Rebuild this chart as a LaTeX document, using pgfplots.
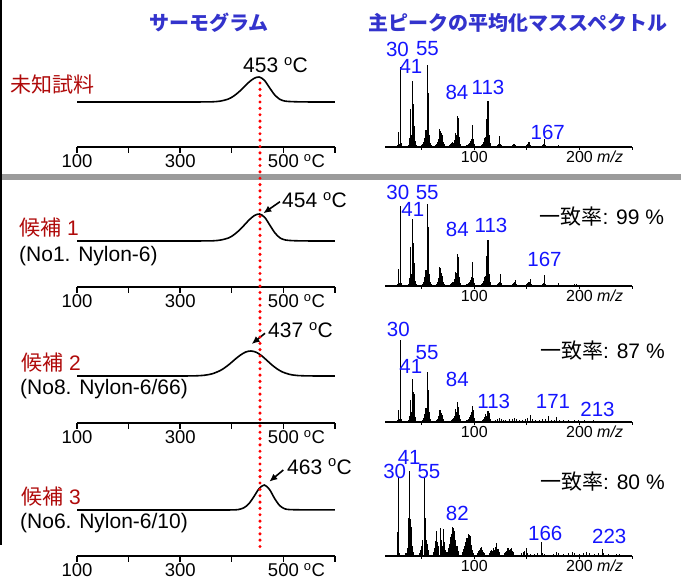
\documentclass[border=0pt]{standalone}
\usepackage{fontspec}
\setmainfont{Liberation Sans}
\newfontfamily\jp{Noto Sans CJK JP}
\usepackage{pgfplots}
\pgfplotsset{compat=1.18}
\usetikzlibrary{arrows.meta}

\definecolor{ttlblue}{RGB}{51,51,204}
\definecolor{lblred}{RGB}{175,10,10}
\definecolor{numblue}{RGB}{20,20,255}
\definecolor{sepgray}{RGB}{155,155,155}

\newcommand{\degC}{\textsuperscript{o}C}

\pgfplotsset{
  thermo/.style={
    scale only axis, width=258pt,
    xmin=100, xmax=600, ymax=30,
    axis x line=bottom, axis y line=none,
    axis line style={-, line width=1.5pt},
    xtick={100,200,...,600},
    xticklabels={100,,300,,{500\rlap{ \degC}},},
    xtick align=outside, major tick length=6pt,
    major tick style={line width=1.4pt, black},
    ytick=\empty,
    xticklabel style={font=\fontsize{18.5}{20}\selectfont, inner sep=1pt},
    clip=false,
  },
  curve/.style={smooth, black, line width=1.6pt, mark=none},
  ms/.style={
    scale only axis, width=247pt, height=90pt,
    xmin=15, xmax=250, ymin=0, ymax=90,
    axis x line=bottom, axis y line=none,
    axis line style={-, line width=1.1pt},
    xtick={50,100,...,250},
    xticklabels={,100,,{200\rlap{ \textit{m/z}}},},
    xtick align=outside, major tick length=3pt,
    major tick style={line width=0.8pt, black},
    ytick=\empty,
    xticklabel style={font=\fontsize{16}{18}\selectfont, inner sep=1pt},
    clip=false,
  },
  sticks/.style={ycomb, black, line width=1.05pt, mark=none},
}

\tikzset{
  lbl/.style={lblred, inner sep=0, anchor=west, font=\fontsize{21}{23}\selectfont},
  sub/.style={black, inner sep=0, anchor=west, font=\fontsize{21}{23}\selectfont},
  num/.style={numblue, inner sep=0, font=\fontsize{20.5}{22}\selectfont},
  tmp/.style={black, inner sep=0, anchor=west, font=\fontsize{21}{23}\selectfont},
  arr/.style={-{Latex[length=8pt,width=7pt]}, line width=1.6pt},
}

\begin{document}
\begin{tikzpicture}[x=1pt,y=1pt]
\useasboundingbox (0,0) rectangle (681,581);

% separator and left border
\fill[sepgray] (0,401) rectangle (681,407);
\draw[line width=1.5pt] (0.75,581) -- (0.75,36);

% titles
\node[ttlblue, inner sep=0, font=\fontsize{20}{22}\selectfont\jp\bfseries] at (209,558) {サーモグラム};
\node[ttlblue, inner sep=0, font=\fontsize{20}{22}\selectfont\jp\bfseries] at (518,558) {主ピークの平均化マススペクトル};

% ---------------- row 1: unknown sample
\begin{axis}[thermo, at={(77pt,434pt)}, anchor=south west, ymin=-45, height=75pt]
\addplot[curve] coordinates {(100,0) (200,0) (300,0) (343,0.05) (363,0.2) (378,0.9) (393,2.9) (403,5.7) (413,9.7) (423,14.6) (433,19.7) (443,23.6) (453,25) (463,21.8) (473,14.4) (483,7.2) (493,2.7) (503,0.9) (515,0.4) (535,0.1) (565,0) (600,0)};
\end{axis}
\begin{axis}[ms, at={(385pt,434pt)}, anchor=south west]
\addplot[sticks] coordinates {(27,2) (28,15) (29,3) (30,80) (31,4) (32,1)
(37,2) (38,9) (39,38) (40,12) (41,66) (42,43) (43,21) (44,6) (45,2)
(50,2) (51,3) (52,5) (53,9) (54,17) (55,82) (56,54) (57,12) (58,4) (59,2)
(63,2) (64,3) (65,5) (66,8) (67,18) (68,16) (69,14) (70,12) (71,5) (72,3)
(76,2) (77,3) (78,4) (79,5) (80,4) (81,7) (82,14) (83,12) (84,31) (85,29) (86,10) (87,3)
(93,2) (94,3) (95,4) (96,6) (97,8) (98,22) (99,8) (100,3)
(107,2) (108,3) (109,5) (110,9) (111,10) (112,28) (113,46) (114,12) (115,4)
(122,2) (123,3) (124,11) (125,3) (126,2)
(136,2) (137,3) (138,3) (139,2)
(150,2) (151,3) (152,5) (153,2)
(165,2) (166,3) (167,8) (168,2)
(180,2) (195,1) (209,1)};
\end{axis}
\node[lbl, font=\fontsize{21}{23}\selectfont\jp] at (10,496) {未知試料};
\node[tmp] at (243,516) {453 \degC};
\node[num] at (397.5,532) {30};
\node[num] at (427.5,532) {55};
\node[num] at (411,515) {41};
\node[num] at (457,489) {84};
\node[num] at (488,494) {113};
\node[num] at (547.8,449) {167};

% ---------------- row 2: candidate 1
\begin{axis}[thermo, at={(77pt,294pt)}, anchor=south west, ymin=-46, height=76pt]
\addplot[curve] coordinates {(100,0) (200,0) (300,0) (344,0.05) (364,0.2) (379,1.0) (394,3.1) (404,6.2) (414,10.5) (424,15.8) (434,21.3) (444,25.5) (454,27) (464,23.5) (474,15.6) (484,7.8) (494,2.9) (504,1.0) (516,0.4) (536,0.1) (566,0) (600,0)};
\end{axis}
\begin{axis}[ms, at={(385pt,295pt)}, anchor=south west]
\addplot[sticks] coordinates {(27,2) (28,17) (29,3) (30,80) (31,3)
(37,2) (38,8) (39,39) (40,12) (41,67) (42,43) (43,23) (44,5) (45,2)
(51,2) (52,4) (53,9) (54,16) (55,82) (56,59) (57,12) (58,4) (59,2)
(64,2) (65,4) (66,8) (67,19) (68,18) (69,13) (70,10) (71,4) (72,2)
(77,2) (78,3) (79,4) (80,4) (81,7) (82,14) (83,13) (84,32) (85,29) (86,9) (87,3)
(93,2) (94,3) (95,4) (96,6) (97,9) (98,24) (99,8) (100,3)
(107,2) (108,3) (109,5) (110,9) (111,10) (112,30) (113,46) (114,12) (115,4)
(122,2) (123,3) (124,4) (125,12) (126,3)
(136,2) (137,3) (138,4) (139,6) (140,2)
(150,2) (151,3) (152,4) (153,7) (154,2)
(165,2) (166,3) (167,11) (168,2)
(180,3) (195,2) (197,2) (210,1)};
\end{axis}
\node[lbl] at (19,353) {{\jp 候補} 1};
\node[sub] at (19,325) {(No1. Nylon-6)};
\draw[arr] (280,379.3) -- (263.3,367.7);
\node[tmp] at (282,381) {454 \degC};
\node[num] at (397.8,388.3) {30};
\node[num] at (427.2,388.3) {55};
\node[num] at (412.8,372) {41};
\node[num] at (457.3,351.7) {84};
\node[num] at (491,356) {113};
\node[num] at (544.5,322) {167};
\node[sub] at (539.3,364.3) {{\jp 一致率}: 99 \%};

% ---------------- row 3: candidate 2
\begin{axis}[thermo, at={(77pt,158pt)}, anchor=south west, ymin=-47, height=77pt]
\addplot[curve] coordinates {(100,0) (200,0) (290,0) (327,0.13) (347,0.75) (362,2.2) (377,5.3) (387,8.5) (397,12.5) (407,17) (417,21) (427,24) (437,25) (447,23.8) (457,20.6) (467,16.1) (477,11.4) (487,7.4) (497,4.3) (512,1.6) (527,0.5) (547,0.1) (575,0) (600,0)};
\end{axis}
\begin{axis}[ms, at={(385pt,159pt)}, anchor=south west]
\addplot[sticks] coordinates {(27,2) (28,12) (29,3) (30,82) (31,3)
(37,2) (38,6) (39,22) (40,10) (41,43) (42,30) (43,28) (44,5)
(51,2) (52,4) (53,8) (54,14) (55,50) (56,32) (57,10) (58,3)
(64,2) (65,3) (66,6) (67,12) (68,12) (69,9) (70,7) (71,3)
(78,2) (79,3) (80,4) (81,6) (82,13) (83,10) (84,20) (85,15) (86,7) (87,3)
(93,2) (94,3) (95,5) (96,7) (97,10) (98,16) (99,12) (100,4)
(108,2) (109,3) (110,5) (111,8) (112,6) (113,11) (114,9) (115,3)
(120,2) (122,3) (124,4) (126,3) (128,2) (130,2) (133,3) (136,3) (138,4) (140,3)
(143,2) (146,2) (149,3) (151,4) (153,7) (155,3) (158,2) (162,2) (165,3) (168,3)
(171,6) (173,2) (176,2) (178,5) (181,2) (185,2) (190,2) (195,2) (199,2) (205,2)
(208,1) (213,2) (220,1) (228,1)};
\end{axis}
\node[lbl] at (21,218.3) {{\jp 候補} 2};
\node[sub] at (20,192) {(No8. Nylon-6/66)};
\draw[arr] (265,247.7) -- (251.7,237);
\node[tmp] at (268,251) {437 \degC};
\node[num] at (398.3,251.7) {30};
\node[num] at (427,228.3) {55};
\node[num] at (410.8,214.3) {41};
\node[num] at (457.3,201.7) {84};
\node[num] at (493.8,179.3) {113};
\node[num] at (553,179.3) {171};
\node[num] at (597.5,171.7) {213};
\node[sub] at (540,230) {{\jp 一致率}: 87 \%};

% ---------------- row 4: candidate 3
\begin{axis}[thermo, at={(77pt,25pt)}, anchor=south west, ymin=-46, height=76pt]
\addplot[curve] coordinates {(100,0) (200,0) (300,0) (380,0) (403,0.1) (413,0.5) (423,2.1) (433,6.2) (443,13.5) (453,21.4) (463,25) (473,20.6) (483,11.5) (493,4.3) (503,1.1) (513,0.4) (530,0.2) (560,0.1) (600,0.1)};
\end{axis}
\begin{axis}[ms, at={(385pt,25pt)}, anchor=south west]
\addplot[sticks] coordinates {(26.5,24) (27.5,79) (28.5,3)
(35,3) (36,8) (37.5,38) (38.5,85) (39.5,37) (40.5,29) (41.5,10) (42.5,4)
(48,3) (49,6) (50,10) (51,16) (52.5,78) (53.5,38) (54.5,16) (55.5,12) (56.5,6)
(61,4) (62,8) (63,15) (64,25) (65,14) (66,10) (67.5,28) (68.5,16) (69.5,10) (70.5,27) (71.5,14) (72.5,6)
(74,4) (75,8) (76,12) (77,19) (78,22) (79.5,29) (80.5,28) (81.5,25) (82.5,16) (83.5,10) (85,5)
(89,4) (90,7) (91,10) (92,14) (93,18) (94,22) (95,21) (96,20) (97,11) (98,6) (99,3)
(103,3) (104,5) (105,6) (106,8) (107,9) (108,6) (109,4) (110,3)
(114,3) (115,5) (116,6) (117,5) (118,8) (119,6) (120,9) (121.5,13) (122.5,7) (124,4)
(129,3) (130,4) (131,5) (132,8) (133,6) (134,7) (135,8) (136,5) (137,4)
(145,3) (147,4) (148,5) (150,8) (151,3) (153,2)
(157,2) (160,3) (163.5,14) (165,3) (167,2)
(175,2) (178,4) (180,3) (185,2) (190,3) (193,4) (195,3) (200,2) (204,3) (207,4)
(210,3) (214,2) (218,3) (221.5,7) (223,3) (228,2) (235,2) (238,2)};
\end{axis}
\node[lbl] at (21,84) {{\jp 候補} 3};
\node[sub] at (20,58) {(No6. Nylon-6/10)};
\draw[arr] (283.3,111) -- (269.3,99.3);
\node[tmp] at (287,114.3) {463 \degC};
\node[num] at (394.7,109.3) {30};
\node[num] at (409.2,123.7) {41};
\node[num] at (429,109.3) {55};
\node[num] at (457.3,67.7) {82};
\node[num] at (545.3,47.7) {166};
\node[num] at (609.2,44.3) {223};
\node[sub] at (540,99.3) {{\jp 一致率}: 80 \%};

% red dotted reference line at the unknown's peak
\draw[red, line width=3.4pt, line cap=round, dash pattern=on 0pt off 6.35pt] (260,498) -- (260,31);
\end{tikzpicture}
\end{document}
